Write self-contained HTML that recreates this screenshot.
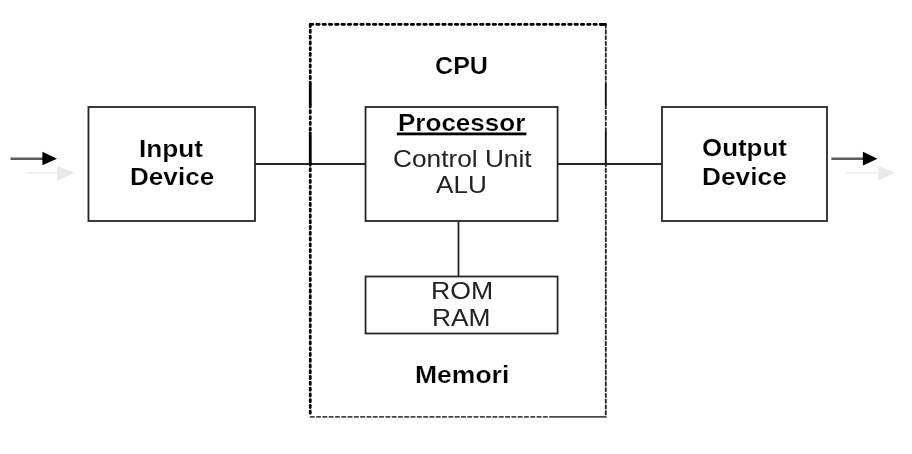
<!DOCTYPE html>
<html><head><meta charset="utf-8">
<style>
html,body{margin:0;padding:0;background:#fff;width:912px;height:454px;overflow:hidden}
svg{position:absolute;left:0;top:0}
.t{position:absolute;will-change:transform;font-family:"Liberation Sans",sans-serif;font-size:24px;line-height:30px;white-space:nowrap;color:#000;transform-origin:50% 50%}
.b{font-weight:bold;-webkit-text-stroke:0.2px #fff}
.r{color:#222}
</style></head><body>
<svg width="912" height="454" viewBox="0 0 912 454">
  <g fill="none" stroke="#262626" stroke-width="1.8">
    <rect x="88.45" y="107" width="166.55" height="114"/>
    <rect x="365.55" y="107" width="192.05" height="114"/>
    <rect x="365.55" y="276.5" width="192.05" height="57"/>
    <rect x="662" y="107" width="165" height="114"/>
    <line x1="255" y1="164" x2="365.55" y2="164"/>
    <line x1="557.6" y1="164" x2="662" y2="164"/>
    <line x1="458.5" y1="221" x2="458.5" y2="276.5"/>
  </g>
  <g fill="none">
    <line x1="310.4" y1="24.35" x2="606" y2="24.35" stroke="#000" stroke-width="2.8" stroke-linecap="round" stroke-dasharray="2.5 3.8"/>
    <path d="M310.25 24.5 V84 M310.25 105 V132 M310.25 163 V416.5" stroke="#000" stroke-width="2.8" stroke-linecap="round" stroke-dasharray="2.2 3.57"/>
    <path d="M310.25 84 V105 M310.25 132 V163" stroke="#000" stroke-width="2.8"/>
    <path d="M605.8 24.5 V84 M605.8 105 V132 M605.8 163 V416.5" stroke="#222" stroke-width="1.8" stroke-linecap="round" stroke-dasharray="3.3 2.47"/>
    <path d="M605.8 84 V105 M605.8 132 V163" stroke="#111" stroke-width="1.9"/>
    <line x1="310.5" y1="416.8" x2="552" y2="416.8" stroke="#444" stroke-width="1.8" stroke-linecap="round" stroke-dasharray="3.5 2.8"/>
    <line x1="552" y1="416.8" x2="606.7" y2="416.8" stroke="#4a4a4a" stroke-width="1.7"/>
  </g>
  <line x1="600.5" y1="24.35" x2="605.6" y2="24.35" stroke="#000" stroke-width="2.8" stroke-linecap="round"/>
  <rect x="396.8" y="132.5" width="129.6" height="2.8" fill="#000"/>
  <!-- arrows -->
  <g>
  <g stroke="#5a5a5a" stroke-width="2.6">
    <line x1="10.5" y1="158.8" x2="44" y2="158.8"/>
    <line x1="831.3" y1="158.7" x2="864.5" y2="158.7"/>
  </g>
  <polygon points="42.4,151.8 57,158.7 42.4,165.3" fill="#000"/>
  <polygon points="862.9,151.8 877.5,158.8 862.9,165.4" fill="#000"/>
  <g stroke="#eeeeee" stroke-width="1.8">
    <line x1="25.3" y1="172.8" x2="58" y2="172.8"/>
    <line x1="846.2" y1="172.8" x2="879" y2="172.8"/>
  </g>
  <polygon points="57.1,165.9 74.8,172.6 57.1,180.9" fill="#e9e9e9"/>
  <polygon points="878.3,166.1 895.2,172.6 878.3,180.6" fill="#e9e9e9"/>
  </g>
</svg>
<div class="t b" id="t1" style="left:139.31px;top:133.8px;transform:scaleX(1.0929);transform-origin:0 0">Input</div>
<div class="t b" id="t2" style="left:129.82px;top:161.9px;transform:scaleX(1.0878);transform-origin:0 0">Device</div>
<div class="t b" id="t3" style="left:435.2px;top:50.8px;transform:scaleX(1.0458);transform-origin:0 0">CPU</div>
<div class="t b" id="t4" style="left:397.83px;top:107.6px;transform:scaleX(1.0843);transform-origin:0 0">Processor</div>
<div class="t r" id="t5" style="left:392.51px;top:144.0px;transform:scaleX(1.0936);transform-origin:0 0">Control Unit</div>
<div class="t r" id="t6" style="left:436.3px;top:170.2px;transform:scaleX(1.0867);transform-origin:0 0">ALU</div>
<div class="t r" id="t7" style="left:430.68px;top:275.7px;transform:scaleX(1.1096);transform-origin:0 0">ROM</div>
<div class="t r" id="t8" style="left:432.3px;top:303.2px;transform:scaleX(1.098);transform-origin:0 0">RAM</div>
<div class="t b" id="t9" style="left:414.69px;top:360.3px;transform:scaleX(1.1049);transform-origin:0 0">Memori</div>
<div class="t b" id="t10" style="left:701.52px;top:133.4px;transform:scaleX(1.0799);transform-origin:0 0">Output</div>
<div class="t b" id="t11" style="left:701.81px;top:161.6px;transform:scaleX(1.0959);transform-origin:0 0">Device</div>
</body></html>
